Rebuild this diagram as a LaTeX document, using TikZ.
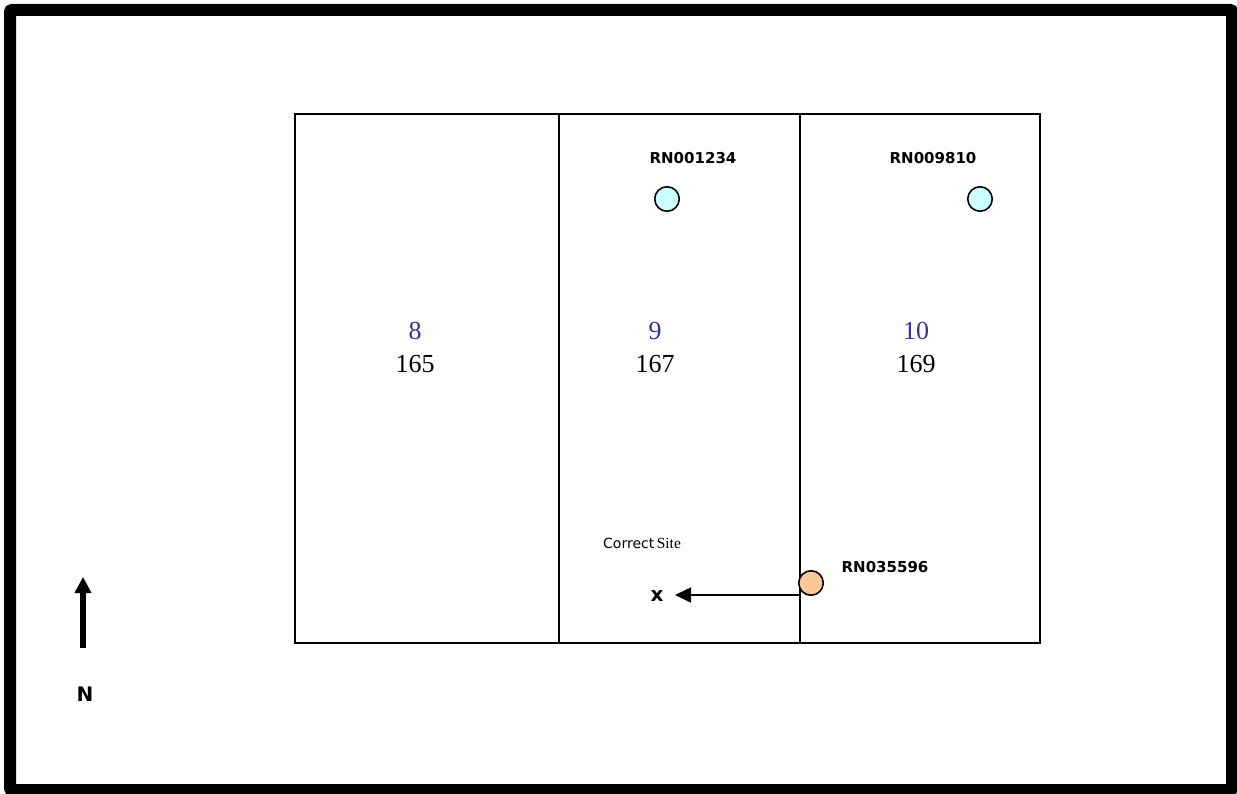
\documentclass[tikz,border=0pt]{standalone}
\usepackage{fontspec}
\setmainfont{Liberation Serif}
\newfontfamily\verd{DejaVu Sans}
\usetikzlibrary{arrows.meta}
\definecolor{numblue}{RGB}{51,51,153}
\definecolor{wellcyan}{RGB}{204,255,255}
\definecolor{wellorange}{RGB}{250,200,150}
\tikzset{
  lot/.style={draw=black,line width=2pt},
  well/.style={circle,draw=black,line width=1.6pt,minimum size=24.5pt,inner sep=0pt},
  tag/.style={font=\verd\bfseries\fontsize{15}{18}\selectfont,anchor=base,inner sep=0pt},
  bigtag/.style={font=\verd\bfseries\fontsize{20}{24}\selectfont,anchor=base,inner sep=0pt},
  lotnum/.style={font=\fontsize{26}{29}\selectfont,anchor=base,inner sep=0pt,text=numblue},
  lotaddr/.style={font=\fontsize{26}{29}\selectfont,anchor=base,inner sep=0pt}
}
\begin{document}
\begin{tikzpicture}[x=1pt,y=-1pt]
\useasboundingbox (0,0) rectangle (1237,794);
% outer frame
\draw[line width=12pt,rounded corners=2pt] (10,10) rectangle (1232,790);
% lots
\draw[lot] (295,114) rectangle (1040,643);
\draw[lot] (559,114) -- (559,643);
\draw[lot] (800,114) -- (800,643);
% lot numbers
\node[lotnum] (n8) at (415,340) {8};
\node[lotaddr] (a165) at (415,372) {165};
\node[lotnum] (n9) at (655,340) {9};
\node[lotaddr] (a167) at (655,372) {167};
\node[lotnum] (n10) at (916,340) {10};
\node[lotaddr] (a169) at (916,372) {169};
% wells
\node[tag] (t1) at (693,164) {RN001234};
\node[well,fill=wellcyan] (w1) at (667,199) {};
\node[tag] (t2) at (933,164) {RN009810};
\node[well,fill=wellcyan] (w2) at (980,199) {};
\node[tag] (t3) at (885,572) {RN035596};
\node[well,fill=wellorange] (w3) at (811,583) {};
% correct site
\node[anchor=base west,inner sep=0pt] (cs) at (603,548) {{\verd\fontsize{14}{17}\selectfont Correct} {\fontsize{15.5}{18}\selectfont Site}};
\node[bigtag] (x) at (657,601.5) {x};
\coordinate (from) at (800,595);
\draw[line width=1.6pt,-{Triangle[length=16pt,width=15pt]},shorten >=18pt] (from) -- (from -| x);
% north arrow
\coordinate (ns) at (83,648);
\coordinate (nt) at (83,577);
\draw[line width=6pt,-{Triangle[length=16pt,width=16pt]}] (ns) -- (nt);
\node[bigtag] (N) at (85,701.5) {N};
\end{tikzpicture}
\end{document}
